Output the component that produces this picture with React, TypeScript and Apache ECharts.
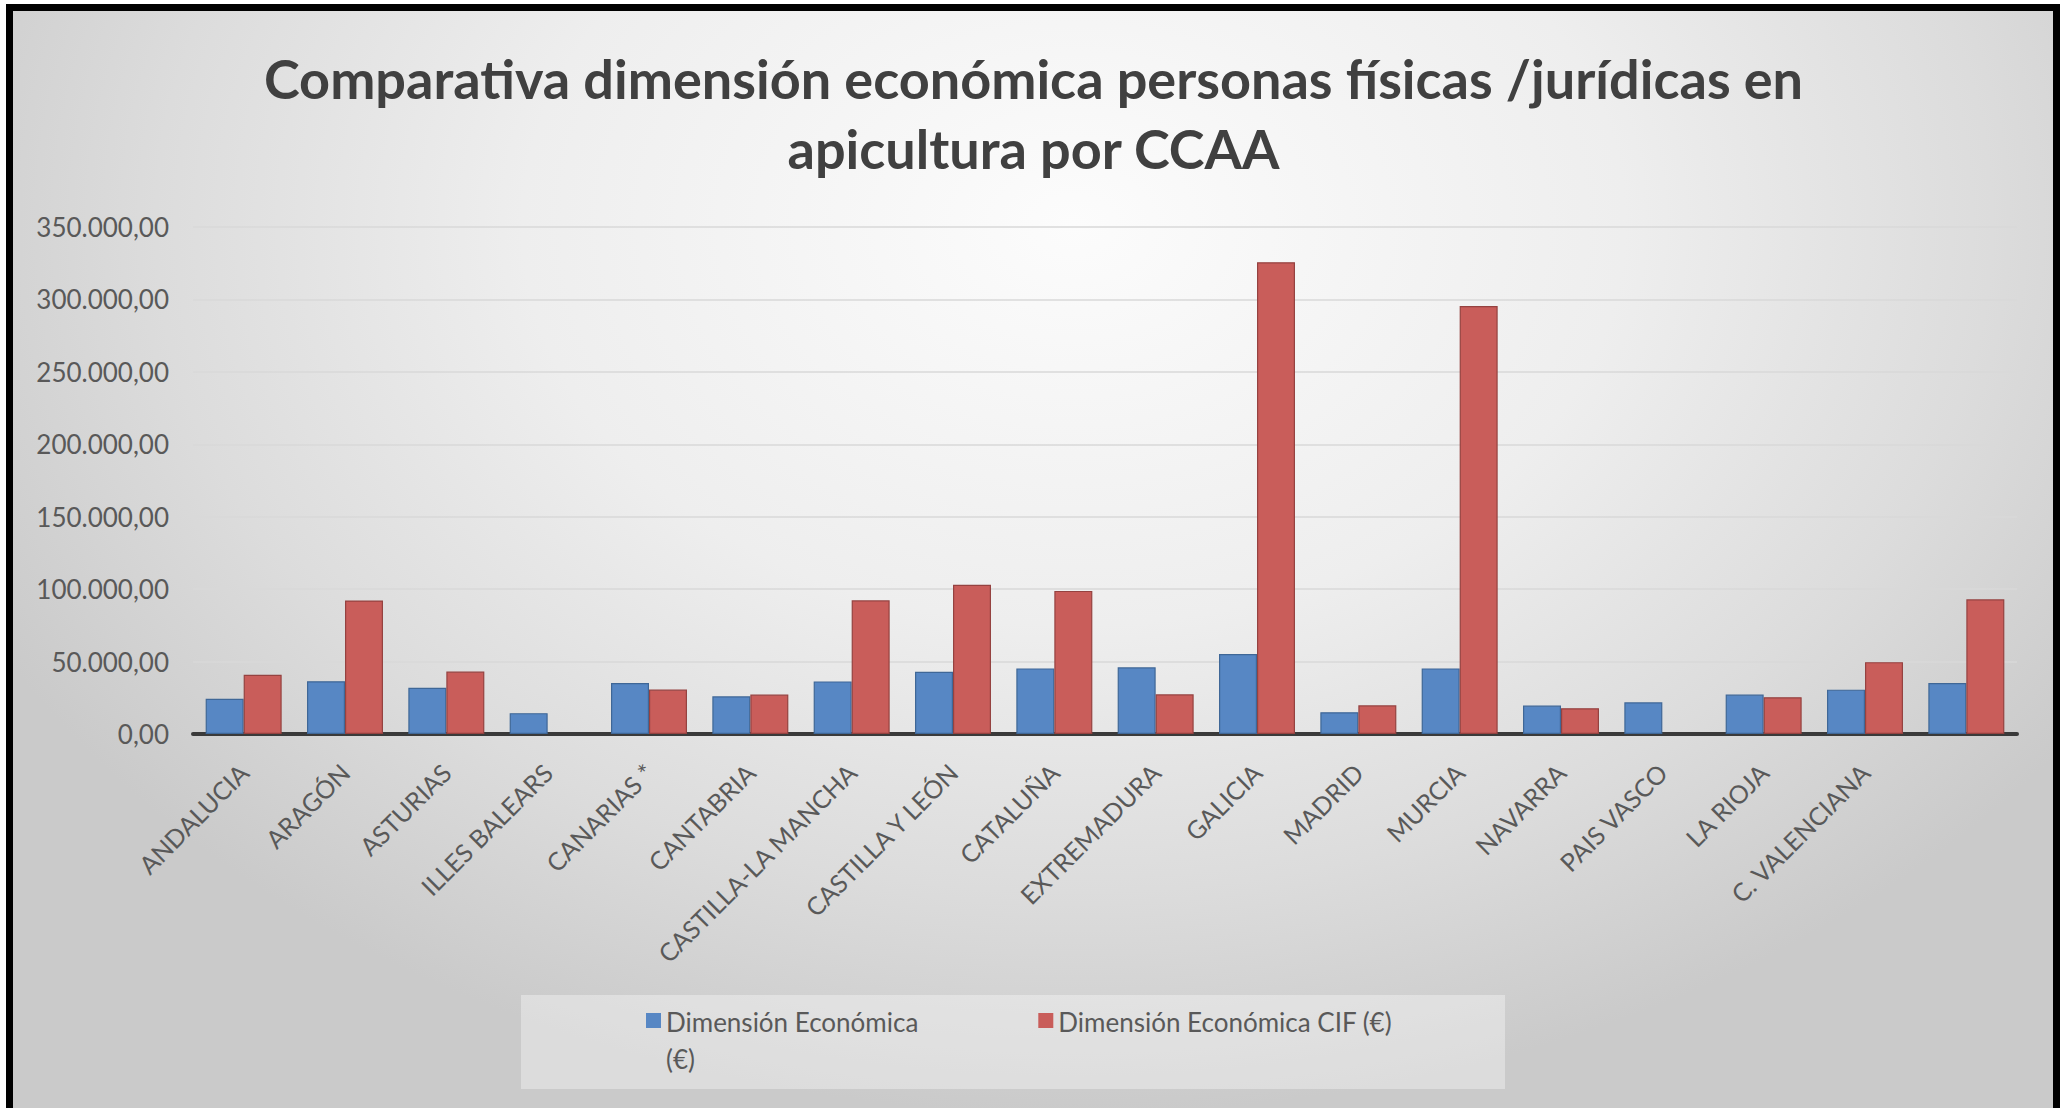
import React, { useEffect, useRef } from "react";
import * as echarts from "echarts";

const categories = [
  "ANDALUCIA", "ARAGÓN", "ASTURIAS", "ILLES BALEARS", "CANARIAS *", "CANTABRIA",
  "CASTILLA-LA MANCHA", "CASTILLA Y LEÓN", "CATALUÑA", "EXTREMADURA", "GALICIA",
  "MADRID", "MURCIA", "NAVARRA", "PAIS VASCO", "LA RIOJA", "C. VALENCIANA", "",
];
const seriesNames = ["Dimensión Económica (€)", "Dimensión Económica CIF (€)"];
const dimEconomica = [
  24300, 36400, 31900, 14400, 35200, 26000, 36300, 43000, 45300, 46000, 55200,
  15000, 45300, 19600, 21900, 27200, 30600, 35200,
];
const dimEconomicaCIF = [
  40900, 92200, 43100, null, 30700, 27200, 92300, 103000, 98800, 27400, 325700,
  19800, 295500, 17800, null, 25400, 49600, 93000,
];
const yMin = 0;
const yMax = 350000;
const yInterval = 50000;
const titleText = "Comparativa dimensión económica personas físicas /jurídicas en\napicultura por CCAA";

function fmt(v: number): string {
  const [i, d] = v.toFixed(2).split(".");
  return i.replace(/\B(?=(\d{3})+(?!\d))/g, ".") + "," + d;
}

export default function App() {
  const ref = useRef<HTMLDivElement>(null);
  useEffect(() => {
    document.body.style.margin = "0";
    const chart = echarts.init(ref.current!, null, { renderer: "svg" });
    const font = "Lato, 'Open Sans', sans-serif";
    chart.setOption({
      animation: false,
      backgroundColor: "transparent",
      textStyle: { fontFamily: font },
      title: {
        text: titleText,
        left: "center",
        top: 38,
        textStyle: {
          fontFamily: font,
          fontSize: 54,
          fontWeight: "bold",
          color: "#404040",
          lineHeight: 70,
        },
      },
      graphic: [
        {
          type: "rect",
          z: 0,
          shape: { x: 521, y: 995, width: 984, height: 94 },
          style: { fill: "rgba(255,255,255,0.35)" },
        },
      ],
      legend: {
        left: 641,
        top: 998,
        itemWidth: 15,
        itemHeight: 54,
        itemGap: 120,
        icon: "path://M0,0L15,0L15,15L0,15Z M0,54L0.01,54",
        itemStyle: { borderWidth: 0 },
        data: seriesNames,
        formatter: (name: string) =>
          name === seriesNames[0] ? "Dimensión Económica\n(€)" : name + "\n ",
        textStyle: {
          fontFamily: font,
          fontSize: 26,
          color: "#595959",
          lineHeight: 37,
        },
      },
      grid: { left: 193, right: 50, top: 227, bottom: 374, containLabel: false },
      xAxis: {
        type: "category",
        data: categories,
        axisLine: { lineStyle: { color: "#3a3a3a", width: 4 } },
        axisTick: { show: false },
        axisLabel: {
          interval: 0,
          rotate: 45,
          margin: 34,
          fontSize: 25,
          color: "#595959",
          fontFamily: font,
        },
      },
      yAxis: {
        type: "value",
        min: yMin,
        max: yMax,
        interval: yInterval,
        axisLine: { show: false },
        axisTick: { show: false },
        splitLine: { lineStyle: { color: "#d8d8d8", width: 1.5 } },
        axisLabel: {
          margin: 24,
          fontSize: 26,
          color: "#595959",
          fontFamily: font,
          formatter: (v: number) => fmt(v),
        },
      },
      series: [
        {
          name: seriesNames[0],
          type: "bar",
          data: dimEconomica,
          barGap: "0%",
          barCategoryGap: "25%",
          itemStyle: { color: "#5787c4", borderColor: "#3f6797", borderWidth: 1.2 },
        },
        {
          name: seriesNames[1],
          type: "bar",
          data: dimEconomicaCIF,
          barGap: "0%",
          barCategoryGap: "25%",
          itemStyle: { color: "#c95d5a", borderColor: "#954240", borderWidth: 1.2 },
        },
      ],
    });
    return () => chart.dispose();
  }, []);
  return (
    <div style={{ position: "relative", width: 2067, height: 1108, background: "#fff", overflow: "hidden" }}>
      <div
        style={{
          position: "absolute",
          left: 6,
          top: 4,
          width: 2054,
          height: 1200,
          boxSizing: "border-box",
          border: "7px solid #000",
          background:
            "radial-gradient(ellipse 60% 75% at 52% 18%, #fcfcfc 0%, #eeeeee 45%, #dcdcdc 75%, #cacaca 100%)",
        }}
      />
      <div ref={ref} style={{ position: "absolute", left: 0, top: 0, width: 2067, height: 1108 }} />
    </div>
  );
}
